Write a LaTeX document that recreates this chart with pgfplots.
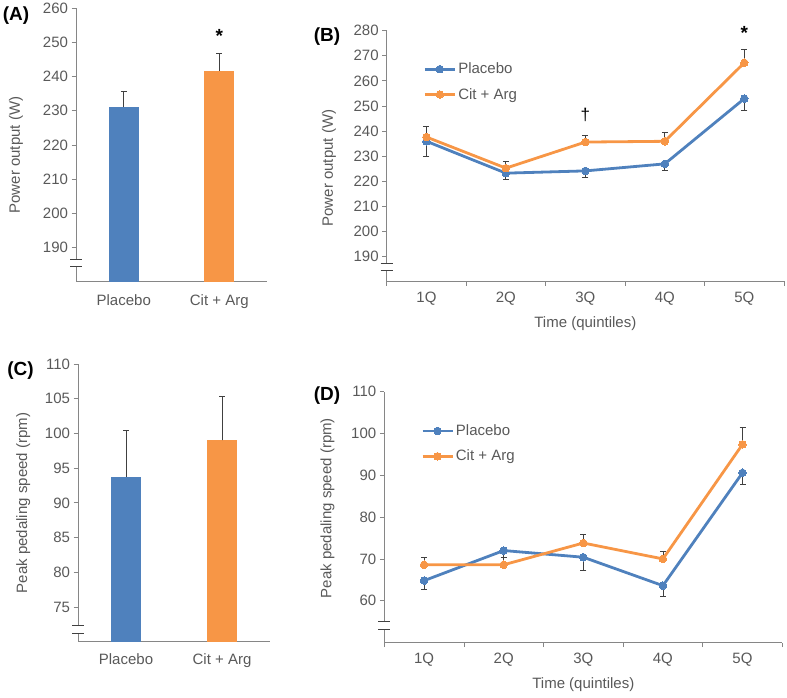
\documentclass[border=0pt]{standalone}
\usepackage{fontspec}
\setmainfont{Liberation Sans}
\usepackage{pgfplots}
\pgfplotsset{compat=1.18}
\definecolor{cblue}{RGB}{79,129,189}
\definecolor{corange}{RGB}{247,150,70}
\definecolor{txtgray}{RGB}{89,89,89}
\definecolor{axgray}{RGB}{134,134,134}
\definecolor{errgray}{RGB}{64,64,64}
\pgfplotsset{
  base/.style={scale only axis, axis x line=bottom, axis y line=left,
    axis line style={axgray, line width=0.8pt, -},
    tick style={axgray, line width=0.8pt}, tick align=outside, major tick length=4.5pt,
    /pgf/number format/assume math mode=true,
    tick label style={font=\fontsize{15}{18}\selectfont, text=txtgray},
    label style={font=\fontsize{15}{18}\selectfont, text=txtgray},
    clip=false},
  errs/.style={error bars/.cd, y explicit, y dir=#1,
    error bar style={errgray, line width=0.8pt},
    error mark options={rotate=90, errgray, mark size=3pt, line width=0.8pt}},
  lineplot/.style={#1, line width=2.8pt, mark=*, mark size=3.8pt, mark options={fill=#1, draw=#1, line width=0pt}},
  leg/.style={legend style={draw=none, fill=none, inner sep=0pt, at={#1}, anchor=north west,
    font=\fontsize{15}{18}\selectfont, text=txtgray, row sep=9pt,
    /tikz/every even column/.append style={column sep=1pt}},
    legend cell align=left,
    legend image code/.code={\draw[mark repeat=2,mark phase=2,##1] plot coordinates {(0pt,0pt) (15pt,0pt) (30pt,0pt)};}},
}
\begin{document}
\begin{tikzpicture}
\useasboundingbox (0,0) rectangle (787pt,697pt);
% ---------------- (A)
\begin{axis}[base, at={(76pt,415.3pt)}, anchor=south west, width=191pt, height=273.4pt,
  xmin=-0.5, xmax=1.5, ymin=180, ymax=260, ytick={190,200,...,260},
  xtick={0,1}, xticklabels={Placebo,Cit + Arg}, xtick style={draw=none},
  xticklabel style={yshift=-5pt},
  ylabel={Power output (W)}, ylabel style={at={(rel axis cs:-0.314,0.463)}, anchor=center},
  ybar, bar width=30pt, bar shift=0pt]
\addplot[fill=cblue, draw=none, errs=plus] coordinates {(0,231.1) +- (0,4.7)};
\addplot[fill=corange, draw=none, errs=plus] coordinates {(1,241.7) +- (0,5.2)};
\fill[white] ([xshift=-2pt]axis cs:-0.5,184.35) rectangle ([xshift=2pt]axis cs:-0.5,186.4);
\draw[errgray, line width=0.9pt] ([xshift=-6pt]axis cs:-0.5,186.4) -- ([xshift=6pt]axis cs:-0.5,186.4);
\draw[errgray, line width=0.9pt] ([xshift=-6pt]axis cs:-0.5,184.35) -- ([xshift=6pt]axis cs:-0.5,184.35);
\node[anchor=north, inner sep=0pt, font=\fontsize{19}{19}\selectfont\bfseries] at (axis cs:1,253.9) {*};
\end{axis}
% ---------------- (B)
\begin{axis}[base, at={(386.7pt,415.5pt)}, anchor=south west, width=397.3pt, height=250.8pt,
  xmin=0.5, xmax=5.5, ymin=180, ymax=280, ytick={190,200,...,280},
  xtick={0.5,1.5,...,5.5}, xticklabels={},
  extra x ticks={1,2,3,4,5}, extra x tick labels={1Q,2Q,3Q,4Q,5Q}, extra x tick style={major tick length=0pt},
  xticklabel style={yshift=-7pt},
  ylabel={Power output (W)}, ylabel style={at={(rel axis cs:-0.145,0.4525)}, anchor=center},
  xlabel={Time (quintiles)}, xlabel style={at={(rel axis cs:0.5,-0.169)}, anchor=center},
  leg={(rel axis cs:0.092,0.88)}]
\addplot[lineplot=cblue, errs=minus] coordinates {(1,235.9) +- (0,5.9) (2,223.2) +- (0,2.5) (3,224.1) +- (0,2.5) (4,226.9) +- (0,2.8) (5,252.9) +- (0,4.6)};
\addlegendentry{Placebo}
\addplot[lineplot=corange, errs=plus] coordinates {(1,237.6) +- (0,4.3) (2,225.2) +- (0,2.7) (3,235.6) +- (0,2.7) (4,235.9) +- (0,3.4) (5,267.2) +- (0,5.2)};
\addlegendentry{Cit + Arg}
\fill[white] ([xshift=-2pt]axis cs:0.5,184.3) rectangle ([xshift=2pt]axis cs:0.5,187.2);
\draw[errgray, line width=0.9pt] ([xshift=-6pt]axis cs:0.5,187.2) -- ([xshift=6pt]axis cs:0.5,187.2);
\draw[errgray, line width=0.9pt] ([xshift=-6pt]axis cs:0.5,184.3) -- ([xshift=6pt]axis cs:0.5,184.3);
\node[anchor=north, inner sep=0pt, font=\fontsize{19}{19}\selectfont\bfseries] at (axis cs:5,281.6) {*};
\node[anchor=north, inner sep=0pt, font=\fontsize{17}{17}\selectfont] at (axis cs:3,249) {†};
\end{axis}
% ---------------- (C)
\begin{axis}[base, at={(78pt,55.3pt)}, anchor=south west, width=192pt, height=277.7pt,
  xmin=-0.5, xmax=1.5, ymin=70, ymax=110, ytick={75,80,...,110},
  xtick={0,1}, xticklabels={Placebo,Cit + Arg}, xtick style={draw=none},
  xticklabel style={yshift=-4pt},
  ylabel={Peak pedaling speed (rpm)}, ylabel style={at={(rel axis cs:-0.285,0.4995)}, anchor=center},
  ybar, bar width=30pt, bar shift=0pt]
\addplot[fill=cblue, draw=none, errs=plus] coordinates {(0,93.75) +- (0,6.65)};
\addplot[fill=corange, draw=none, errs=plus] coordinates {(1,99.0) +- (0,6.3)};
\fill[white] ([xshift=-2pt]axis cs:-0.5,71.25) rectangle ([xshift=2pt]axis cs:-0.5,72.4);
\draw[errgray, line width=0.9pt] ([xshift=-6pt]axis cs:-0.5,72.4) -- ([xshift=6pt]axis cs:-0.5,72.4);
\draw[errgray, line width=0.9pt] ([xshift=-6pt]axis cs:-0.5,71.25) -- ([xshift=6pt]axis cs:-0.5,71.25);
\end{axis}
% ---------------- (D)
\begin{axis}[base, at={(384.3pt,54.5pt)}, anchor=south west, width=398pt, height=250.8pt,
  xmin=0.5, xmax=5.5, ymin=50, ymax=110, ytick={60,70,...,110},
  xtick={0.5,1.5,...,5.5}, xticklabels={},
  extra x ticks={1,2,3,4,5}, extra x tick labels={1Q,2Q,3Q,4Q,5Q}, extra x tick style={major tick length=0pt},
  xticklabel style={yshift=-7pt},
  ylabel={Peak pedaling speed (rpm)}, ylabel style={at={(rel axis cs:-0.1427,0.536)}, anchor=center},
  xlabel={Time (quintiles)}, xlabel style={at={(rel axis cs:0.5,-0.169)}, anchor=center},
  leg={(rel axis cs:0.092,0.877)}]
\addplot[lineplot=cblue, errs=minus] coordinates {(1,64.8) +- (0,2.0) (2,72.0) +- (0,1.7) (3,70.4) +- (0,3.2) (4,63.6) +- (0,2.6) (5,90.6) +- (0,2.8)};
\addlegendentry{Placebo}
\addplot[lineplot=corange, errs=plus] coordinates {(1,68.6) +- (0,1.7) (2,68.6) +- (0,1.7) (3,73.8) +- (0,2.0) (4,70.0) +- (0,1.8) (5,97.4) +- (0,4.1)};
\addlegendentry{Cit + Arg}
\fill[white] ([xshift=-2pt]axis cs:0.5,53.2) rectangle ([xshift=2pt]axis cs:0.5,55.0);
\draw[errgray, line width=0.9pt] ([xshift=-6pt]axis cs:0.5,55.0) -- ([xshift=6pt]axis cs:0.5,55.0);
\draw[errgray, line width=0.9pt] ([xshift=-6pt]axis cs:0.5,53.2) -- ([xshift=6pt]axis cs:0.5,53.2);
\end{axis}
% panel letters
\node[font=\fontsize{19}{19}\selectfont\bfseries] at (16pt,681pt) {(A)};
\node[font=\fontsize{19}{19}\selectfont\bfseries] at (327pt,660.5pt) {(B)};
\node[font=\fontsize{19}{19}\selectfont\bfseries] at (20.5pt,326pt) {(C)};
\node[font=\fontsize{19}{19}\selectfont\bfseries] at (327pt,301pt) {(D)};
\end{tikzpicture}
\end{document}
